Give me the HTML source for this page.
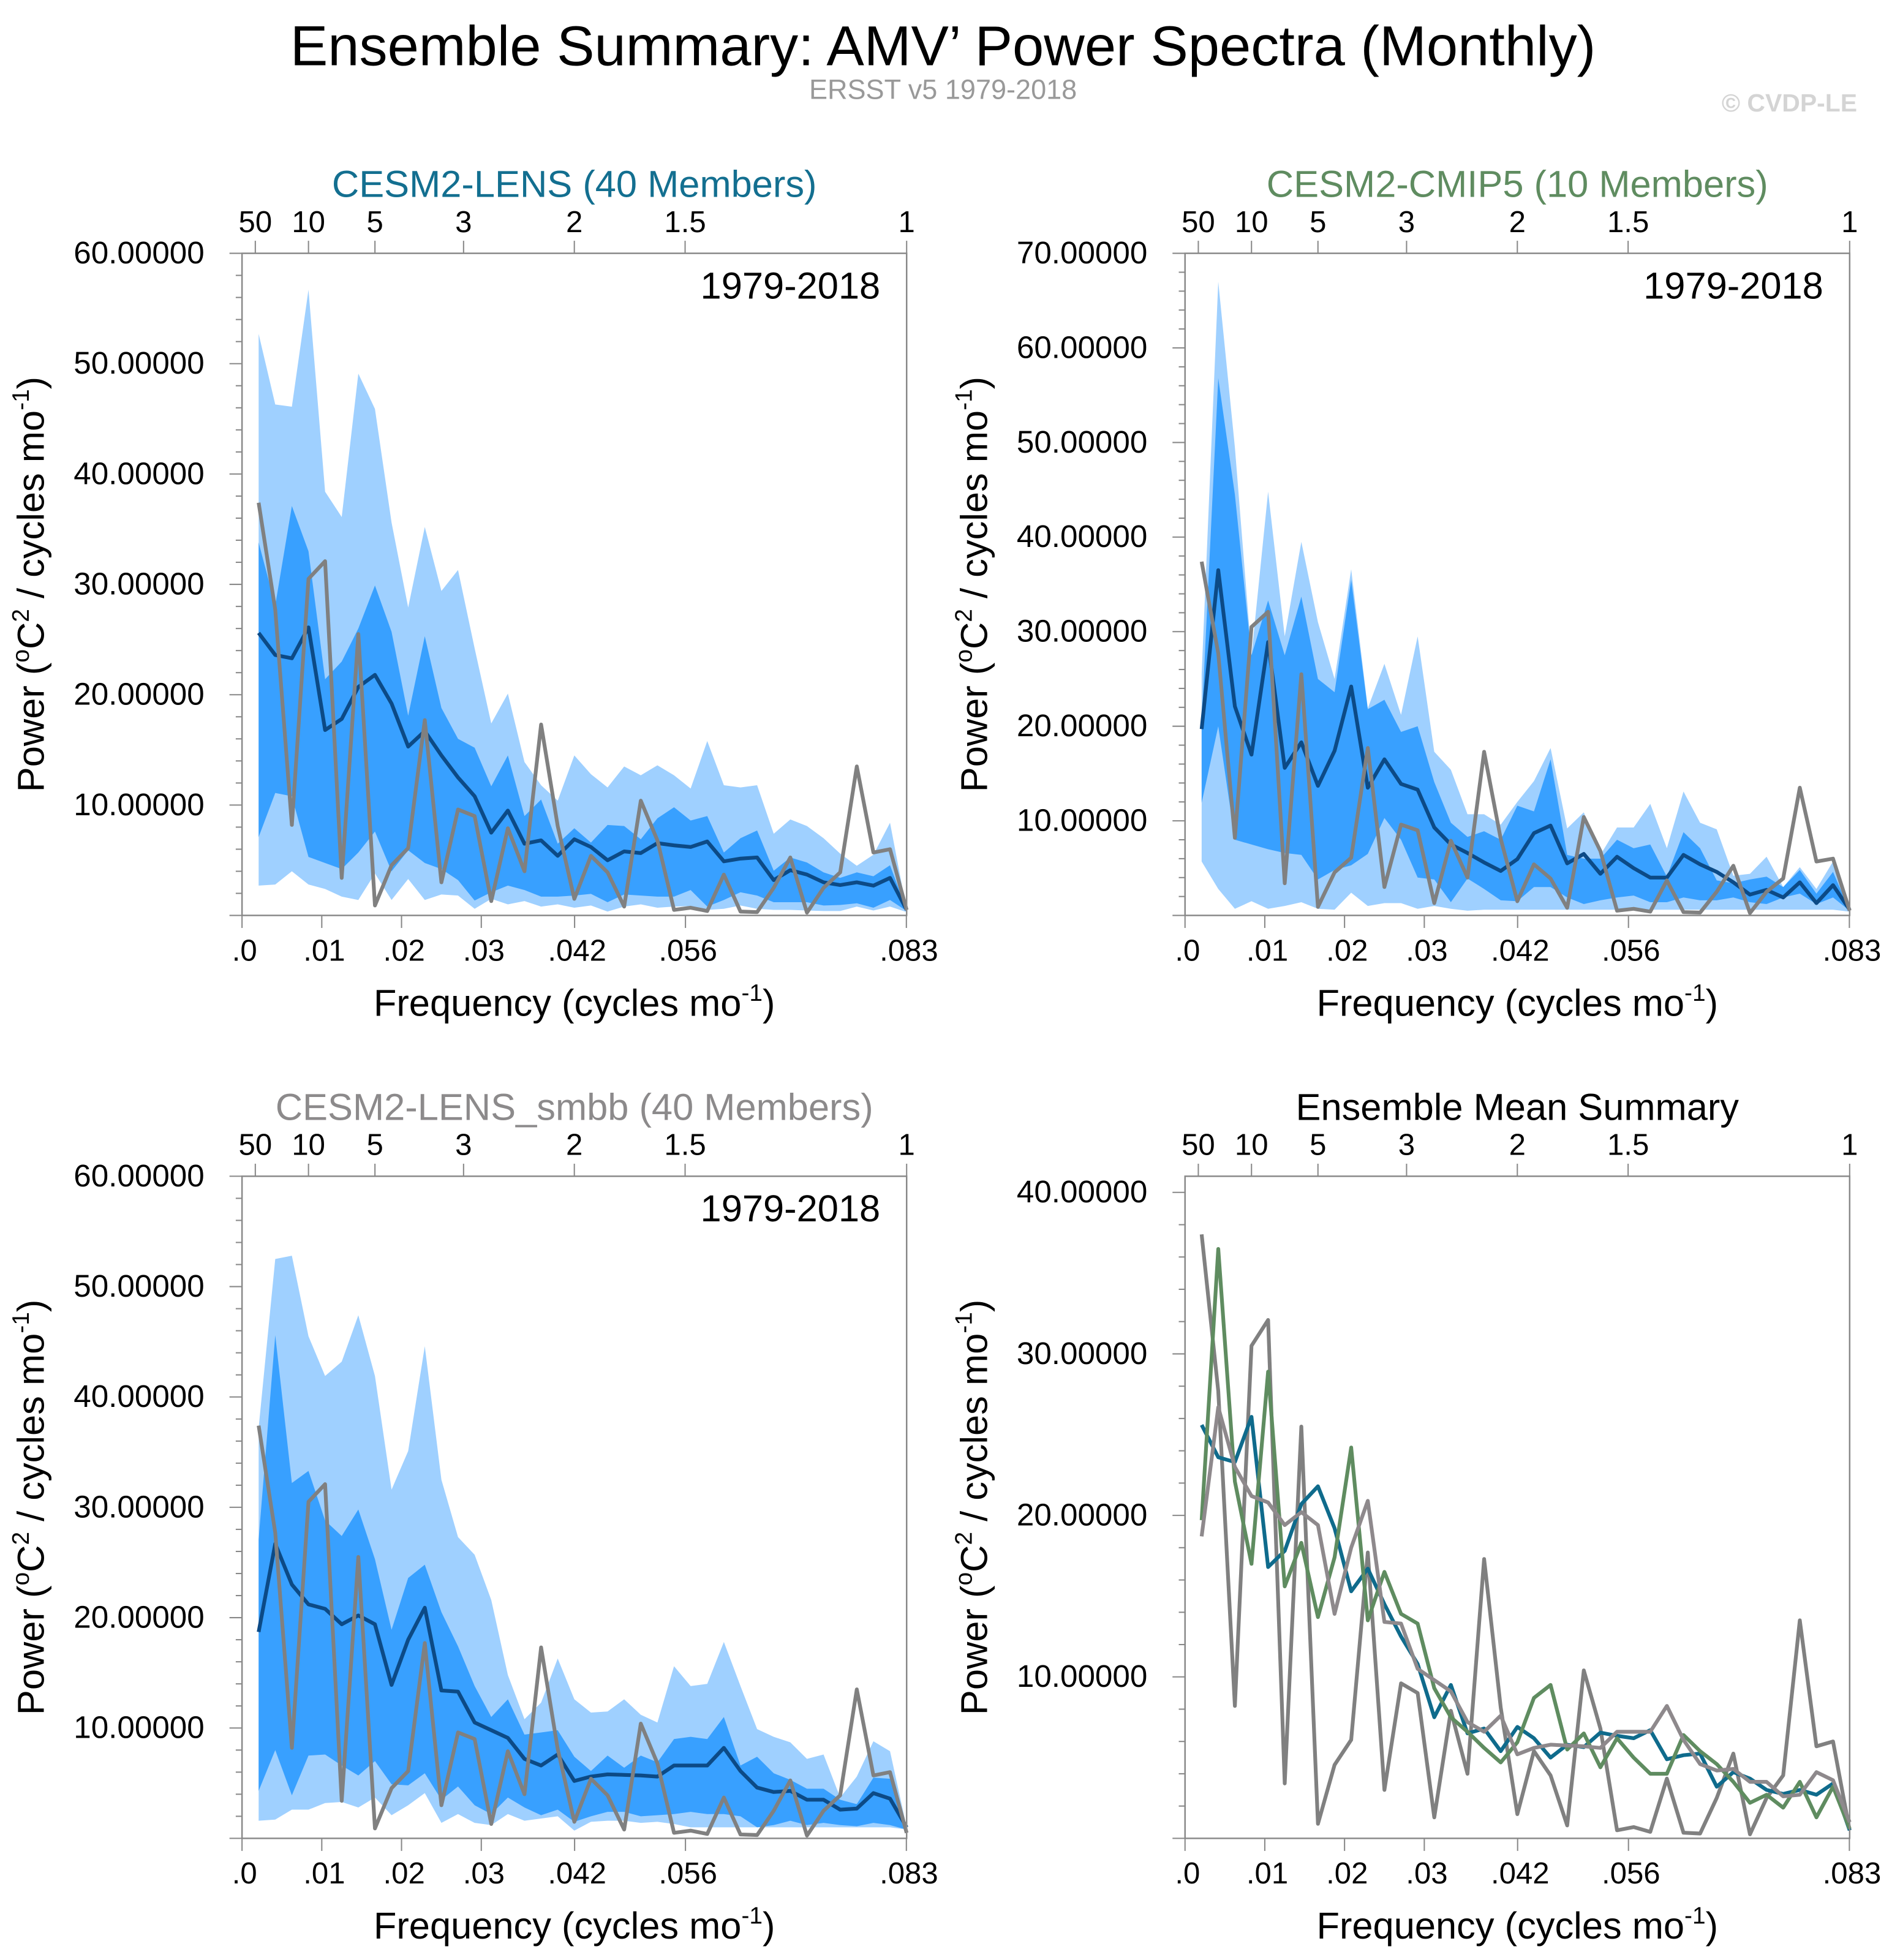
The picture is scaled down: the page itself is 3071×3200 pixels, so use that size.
<!DOCTYPE html>
<html><head><meta charset="utf-8"><title>AMV Power Spectra</title>
<style>
html,body{margin:0;padding:0;background:#fff;}
svg{display:block;font-family:"Liberation Sans",Arial,sans-serif;}
</style></head>
<body>
<svg id="chart" xmlns="http://www.w3.org/2000/svg" width="3071" height="3200" viewBox="0 0 1500 1563">
<rect x="0" y="0" width="1500" height="1563" fill="#fff"/>
<text x="752" y="52" font-size="45" text-anchor="middle" fill="#000">Ensemble Summary: AMV’ Power Spectra (Monthly)</text>
<text x="752" y="79" font-size="22" text-anchor="middle" fill="#999">ERSST v5 1979-2018</text>
<text x="1481" y="89" font-size="20" font-weight="bold" text-anchor="end" fill="#d4d4d4">© CVDP-LE</text>
</svg>
<script>
// Shared observed series (ERSST v5), 40 frequencies k/480
const obs = [37.4,27.7,8.2,30.5,32.1,3.4,25.5,0.9,4.55,6.1,17.7,3.0,9.6,9.0,1.3,7.9,4.0,17.3,8.1,1.5,5.4,3.9,0.8,10.4,6.8,0.5,0.7,0.4,3.7,0.35,0.3,2.5,5.25,0.25,2.5,3.9,13.5,5.7,6.0,0.5];

// CESM2-LENS
const lensMean = [25.6,23.6,23.3,26.1,16.8,17.8,20.7,21.8,19.2,15.3,16.7,14.5,12.5,10.8,7.5,9.5,6.5,6.8,5.4,6.9,6.2,5.0,5.8,5.65,6.55,6.35,6.2,6.7,4.9,5.15,5.25,3.2,4.1,3.7,3.0,2.75,3.0,2.7,3.4,0.5];
const lensLightHi = [52.7,46.3,46.1,56.7,38.4,36.1,49.1,45.9,35.6,27.9,35.2,29.4,31.3,24.2,17.4,20.1,13.9,11.8,10.4,14.5,12.8,11.6,13.5,12.7,13.6,12.7,11.5,15.8,11.8,11.6,11.8,7.4,8.7,8.1,7.0,5.6,4.5,5.5,8.4,0.5];
const lensDarkHi = [33.8,28.1,37.1,33.0,21.4,23.0,26.0,29.9,25.7,18.1,25.3,18.8,16.0,15.2,11.7,14.5,9.0,10.5,6.5,7.9,6.6,8.2,8.1,6.9,8.8,9.8,8.6,9.0,5.7,7.0,7.7,4.05,5.25,4.8,3.9,3.4,3.9,3.55,4.55,0.5];
const lensDarkLo = [7.1,11.1,10.8,5.3,4.75,4.2,5.7,7.6,4.0,5.9,4.75,4.2,3.2,1.35,2.1,2.7,2.3,1.7,1.7,1.8,1.95,1.2,1.9,1.8,1.7,1.7,2.3,0.8,1.4,2.1,1.8,1.2,1.2,1.2,0.9,0.95,1.1,0.7,1.4,0.4];
const lensLightLo = [2.7,2.8,4.0,2.8,2.4,1.7,1.4,3.8,1.4,3.3,1.4,1.9,1.8,0.6,1.5,1.0,1.3,0.8,1.0,0.7,0.9,0.35,0.8,1.0,0.7,0.8,0.85,0.5,0.6,0.9,0.6,0.5,0.5,0.45,0.4,0.4,0.8,0.45,0.8,0.3];

// CESM2-CMIP5
const cmipMean = [19.7,36.5,22.1,17.0,28.9,15.6,18.3,13.7,17.4,24.2,13.5,16.5,13.9,13.3,9.3,7.5,6.6,5.6,4.7,5.95,8.7,9.5,5.5,6.5,4.4,6.2,5.0,4.0,4.0,6.4,5.4,4.6,3.5,2.2,2.7,1.9,3.5,1.3,3.2,0.6];
const cmipLightHi = [25.5,67.0,49.5,27.5,44.8,29.5,39.5,31.0,25.0,36.6,21.9,26.6,21.2,29.5,17.3,15.4,10.7,10.7,9.6,12.0,14.2,17.7,9.2,10.9,6.4,9.3,9.3,11.8,7.1,13.1,9.8,9.1,4.2,4.4,6.2,3.0,5.1,2.8,5.7,0.5];
const cmipDarkHi = [20.5,56.8,44.5,27.5,33.3,27.5,33.7,25.0,23.6,35.5,21.8,22.8,19.4,20.0,14.1,9.8,8.3,8.9,8.0,11.6,11.0,16.5,6.4,6.0,6.0,8.0,7.1,7.5,4.1,8.8,7.1,3.7,3.4,3.8,4.1,3.0,4.8,2.3,4.6,0.5];
const cmipDarkLo = [11.9,20.0,8.0,7.5,7.0,6.6,6.4,3.8,4.8,5.3,6.5,10.3,8.0,4.0,3.8,1.4,3.9,2.8,1.6,1.5,3.0,3.0,1.9,1.2,1.6,1.9,2.1,1.4,1.4,1.9,1.6,1.6,1.9,1.4,1.2,1.9,2.3,1.2,1.9,0.5];
const cmipLightLo = [5.7,2.8,0.7,1.5,0.7,1.0,1.4,0.7,0.6,2.4,1.0,1.3,1.3,0.7,1.0,0.7,0.5,0.6,0.6,0.6,0.6,0.6,0.6,0.6,0.6,0.6,0.6,0.6,0.6,0.6,0.6,0.6,0.6,0.6,0.6,0.6,0.6,0.6,0.6,0.4];

// CESM2-LENS_smbb
const smbbMean = [18.7,26.7,23.0,21.2,20.8,19.4,20.2,19.4,13.9,18.0,20.9,13.4,13.3,10.5,9.8,9.1,7.2,6.6,7.6,5.2,5.6,5.8,5.75,5.7,5.6,6.6,6.6,6.6,8.2,6.1,4.6,4.2,4.3,3.5,3.5,2.6,2.7,4.1,3.6,1.0];
const smbbLightHi = [37.2,52.5,52.8,45.5,41.9,43.2,47.4,41.9,31.6,35.1,44.6,32.5,27.3,25.7,21.6,14.8,10.8,12.3,16.3,12.6,11.4,11.5,12.6,11.2,10.5,15.6,13.8,14.0,17.8,13.8,9.9,9.2,8.7,7.2,7.6,3.7,5.6,8.8,7.9,1.0];
const smbbDarkHi = [27.1,45.6,32.2,33.3,28.8,27.4,29.8,25.3,18.9,23.6,24.8,20.5,17.4,13.8,11.0,12.6,9.4,9.6,9.8,7.4,6.1,7.5,6.4,7.5,6.9,9.0,9.2,9.0,11.0,6.6,7.4,5.9,5.3,4.5,4.5,3.5,3.1,5.5,5.4,1.0];
const smbbDarkLo = [4.3,8.0,3.9,7.5,7.6,6.6,5.7,7.0,4.9,4.8,5.9,3.5,4.7,3.0,2.2,3.7,2.8,2.1,2.6,1.5,2.0,2.4,2.4,2.0,2.1,2.2,2.4,2.2,2.2,2.0,1.0,1.2,1.6,1.2,1.4,1.2,1.1,1.4,1.2,0.8];
const smbbLightLo = [1.6,1.7,2.6,2.6,3.2,3.3,2.8,3.7,2.1,3.0,4.1,1.4,2.2,1.4,1.2,2.2,1.6,1.8,2.0,0.7,1.5,1.6,1.6,1.4,1.5,1.3,1.0,1.0,1.0,1.0,1.0,1.0,1.0,1.0,1.0,1.0,1.0,1.0,1.0,0.8];

const bottomTicks = [0, 0.01, 0.02, 0.03, 0.0417, 0.0556, 0.0833];
const bottomTickLabels = [".0", ".01", ".02", ".03", ".042", ".056", ".083"];
const topPeriods = [50, 10, 5, 3, 2, 1.5, 1];
const topPeriodLabels = ["50", "10", "5", "3", "2", "1.5", "1"];

const NS = "http://www.w3.org/2000/svg";
const svg = document.getElementById("chart");
const N = 40, FMAX = 40/480;

function mk(tag, attrs, parent) {
  const e = document.createElementNS(NS, tag);
  for (const k in attrs) e.setAttribute(k, attrs[k]);
  (parent || svg).appendChild(e);
  return e;
}

function ylabel(g, cx, cy) {
  const t = mk("text", {x: 0, y: 0, "font-size": 30, "text-anchor": "middle", fill: "#000",
    transform: "translate(" + cx + "," + cy + ") rotate(-90)"}, g);
  
  
  t.innerHTML = 'Power (<tspan font-size="19" dy="-12">o</tspan><tspan dy="12">C</tspan><tspan font-size="19" dy="-12">2</tspan><tspan dy="12"> / cycles mo</tspan><tspan font-size="19" dy="-12">-1</tspan><tspan dy="12">)</tspan>';
}

function panel(opt) {
  const g = mk("g", {});
  
  
  const x0 = opt.x0, x1 = opt.x0 + 530, y0 = opt.y0, y1 = opt.y0 + 528;
  const xs = f => x0 + (x1 - x0) * f / FMAX;
  const ys = v => y1 - (y1 - y0) * (v - opt.ymin) / (opt.ymax - opt.ymin);
  const fx = i => xs((i + 1) / 480);

  function band(hi, lo, color, nm) {
    let d = "";
    for (let i = 0; i < N; i++) d += (i ? "L" : "M") + fx(i).toFixed(2) + "," + ys(hi[i]).toFixed(2);
    for (let i = N - 1; i >= 0; i--) d += "L" + fx(i).toFixed(2) + "," + ys(lo[i]).toFixed(2);
    const p = mk("path", {d: d + "Z", fill: color, stroke: "none"}, g);
    
    
  }
  function line(vals, color, nm, w) {
    let d = "";
    for (let i = 0; i < N; i++) d += (i ? "L" : "M") + fx(i).toFixed(2) + "," + ys(vals[i]).toFixed(2);
    const p = mk("path", {d: d, fill: "none", stroke: color, "stroke-width": w || 3, "stroke-linejoin": "round"}, g);
    
    
  }
  if (opt.bands) {
    band(opt.bands[0], opt.bands[3], "#9fd0ff", "band-outer-range");
    band(opt.bands[1], opt.bands[2], "#38a0ff", "band-inner-range");
  }
  opt.lines.forEach(l => line(l.v, l.c, l.n, l.w));

  const fr = mk("rect", {x: x0, y: y0, width: x1 - x0, height: y1 - y0, fill: "none", stroke: "#888", "stroke-width": 1.2}, g);
  
  

  for (let v = opt.ymin; v <= opt.ymax + 0.001; v += 2) {
    const major = Math.abs(v % 10) < 0.001;
    const y = ys(v);
    mk("line", {x1: x0, x2: x0 - (major ? 10 : 5), y1: y, y2: y, stroke: "#888", "stroke-width": 1}, g);
    if (major && v > 0) {
      const t = mk("text", {x: x0 - 30, y: y + 8, "font-size": 25, "text-anchor": "end", fill: "#000"}, g);
      
      
      t.textContent = v.toFixed(5);
    }
  }
  bottomTicks.forEach((f, i) => {
    const x = xs(f);
    mk("line", {x1: x, x2: x, y1: y1, y2: y1 + 10, stroke: "#888", "stroke-width": 1}, g);
    const t = mk("text", {x: x + 2, y: y1 + 36, "font-size": 24, "text-anchor": "middle", fill: "#000"}, g);
    
    
    t.textContent = bottomTickLabels[i];
  });
  topPeriods.forEach((p, i) => {
    const x = xs(1 / (12 * p));
    mk("line", {x1: x, x2: x, y1: y0, y2: y0 - 10, stroke: "#888", "stroke-width": 1}, g);
    const t = mk("text", {x: x, y: y0 - 17, "font-size": 24, "text-anchor": "middle", fill: "#000"}, g);
    
    
    t.textContent = topPeriodLabels[i];
  });
  const tt = mk("text", {x: (x0 + x1) / 2, y: y0 - 45, "font-size": 30, "text-anchor": "middle", fill: opt.tcolor}, g);
  
  
  tt.textContent = opt.title;
  if (opt.period) {
    const pt = mk("text", {x: x1 - 21, y: y0 + 36, "font-size": 30, "text-anchor": "end", fill: "#000"}, g);
    
    
    pt.textContent = "1979-2018";
  }
  const xt = mk("text", {x: (x0 + x1) / 2, y: y1 + 80, "font-size": 30, "text-anchor": "middle", fill: "#000"}, g);
  
  
  xt.innerHTML = 'Frequency (cycles mo<tspan font-size="19" dy="-12">-1</tspan><tspan dy="12">)</tspan>';
  ylabel(g, x0 - 158, (y0 + y1) / 2);
}

panel({name: "panel-cesm2-lens", x0: 193, y0: 202, ymin: 0, ymax: 60, title: "CESM2-LENS (40 Members)", tcolor: "#136f90", period: true,
  bands: [lensLightHi, lensDarkHi, lensDarkLo, lensLightLo],
  lines: [{v: lensMean, c: "#0c4a86", n: "ensemble-mean-line"}, {v: obs, c: "#808080", n: "observed-line"}]});
panel({name: "panel-cesm2-cmip5", x0: 945, y0: 202, ymin: 0, ymax: 70, title: "CESM2-CMIP5 (10 Members)", tcolor: "#5f8c60", period: true,
  bands: [cmipLightHi, cmipDarkHi, cmipDarkLo, cmipLightLo],
  lines: [{v: cmipMean, c: "#0c4a86", n: "ensemble-mean-line"}, {v: obs, c: "#808080", n: "observed-line"}]});
panel({name: "panel-cesm2-lens-smbb", x0: 193, y0: 938, ymin: 0, ymax: 60, title: "CESM2-LENS_smbb (40 Members)", tcolor: "#8c8a8b", period: true,
  bands: [smbbLightHi, smbbDarkHi, smbbDarkLo, smbbLightLo],
  lines: [{v: smbbMean, c: "#0c4a86", n: "ensemble-mean-line"}, {v: obs, c: "#808080", n: "observed-line"}]});
panel({name: "panel-ensemble-mean-summary", x0: 945, y0: 938, ymin: 0, ymax: 41.0, title: "Ensemble Mean Summary", tcolor: "#000", period: false,
  bands: null,
  lines: [{v: obs, c: "#808080", n: "observed-line"}, {v: lensMean, c: "#0f6b8c", n: "lens-mean-line"},
          {v: cmipMean, c: "#5f8c60", n: "cmip5-mean-line"}, {v: smbbMean, c: "#8e898c", n: "smbb-mean-line"}]});
</script>
</body></html>
